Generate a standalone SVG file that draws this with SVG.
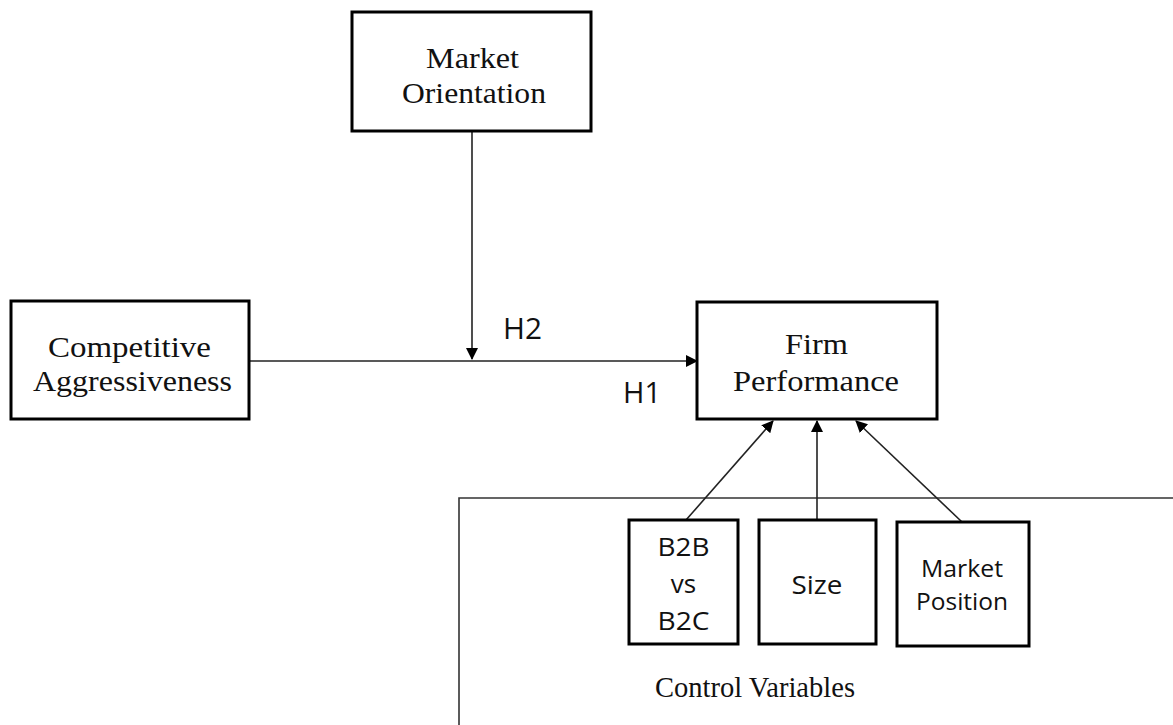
<svg xmlns="http://www.w3.org/2000/svg" width="1173" height="725" viewBox="0 0 1173 725">
<style>
.box{fill:#fff;stroke:#000;stroke-width:3}
.serif{font-family:"Liberation Serif","Times New Roman",serif;font-size:30px;fill:#111}
.sans{font-family:"Open Sans","Noto Sans",sans-serif;fill:#111}
.conn{stroke:#222;stroke-width:1.6;fill:none}
.frame{stroke:#333;stroke-width:1.6;fill:none}
</style>
<defs>
<marker id="arr" markerWidth="12" markerHeight="12" refX="11" refY="6" orient="auto" markerUnits="userSpaceOnUse">
<path d="M0,0 L12,6 L0,12 Z" fill="#000"/>
</marker>
</defs>
<rect width="1173" height="725" fill="#fff"/>
<g id="control-frame">
<path class="frame" d="M459,725 L459,498 L1173,498"/>
<text class="serif" x="755" y="697" text-anchor="middle" textLength="200" lengthAdjust="spacingAndGlyphs">Control Variables</text>
</g>
<g id="connectors">
<path class="conn" d="M249,361 L697,361" marker-end="url(#arr)"/>
<path class="conn" d="M472,131 L472,359" marker-end="url(#arr)"/>
<path class="conn" d="M686,520 L773,421" marker-end="url(#arr)"/>
<path class="conn" d="M817,520 L817,421" marker-end="url(#arr)"/>
<path class="conn" d="M962,522 L856,421" marker-end="url(#arr)"/>
</g>
<g id="market-orientation">
<rect class="box" x="352" y="12" width="239" height="119"/>
<text class="serif" x="472.5" y="68" text-anchor="middle" textLength="93" lengthAdjust="spacingAndGlyphs">Market</text>
<text class="serif" x="474" y="103" text-anchor="middle" textLength="144" lengthAdjust="spacingAndGlyphs">Orientation</text>
</g>
<g id="competitive-aggressiveness">
<rect class="box" x="11" y="301" width="238" height="118"/>
<text class="serif" x="129.5" y="357" text-anchor="middle" textLength="163" lengthAdjust="spacingAndGlyphs">Competitive</text>
<text class="serif" x="132.5" y="391" text-anchor="middle" textLength="199" lengthAdjust="spacingAndGlyphs">Aggressiveness</text>
</g>
<g id="firm-performance">
<rect class="box" x="697" y="302" width="240" height="117"/>
<text class="serif" x="816.5" y="354" text-anchor="middle" textLength="63" lengthAdjust="spacingAndGlyphs">Firm</text>
<text class="serif" x="816" y="391" text-anchor="middle" textLength="166" lengthAdjust="spacingAndGlyphs">Performance</text>
</g>
<g id="labels">
<text class="sans" x="503" y="339" font-size="29" textLength="39" lengthAdjust="spacingAndGlyphs">H2</text>
<text class="sans" x="623" y="403" font-size="29" textLength="38" lengthAdjust="spacingAndGlyphs">H1</text>
</g>
<g id="b2b-vs-b2c">
<rect class="box" x="629" y="520" width="109" height="124"/>
<text class="sans" x="683.5" y="556" font-size="26" text-anchor="middle" textLength="52" lengthAdjust="spacingAndGlyphs">B2B</text>
<text class="sans" x="683.5" y="593" font-size="26" text-anchor="middle">vs</text>
<text class="sans" x="683.5" y="630" font-size="26" text-anchor="middle" textLength="52" lengthAdjust="spacingAndGlyphs">B2C</text>
</g>
<g id="size">
<rect class="box" x="759" y="520" width="117" height="124"/>
<text class="sans" x="817" y="594" font-size="26" text-anchor="middle" textLength="51" lengthAdjust="spacingAndGlyphs">Size</text>
</g>
<g id="market-position">
<rect class="box" x="897" y="522" width="132" height="124"/>
<text class="sans" x="962" y="577" font-size="23" text-anchor="middle" textLength="82" lengthAdjust="spacingAndGlyphs">Market</text>
<text class="sans" x="962" y="610" font-size="23" text-anchor="middle" textLength="92" lengthAdjust="spacingAndGlyphs">Position</text>
</g>
</svg>
